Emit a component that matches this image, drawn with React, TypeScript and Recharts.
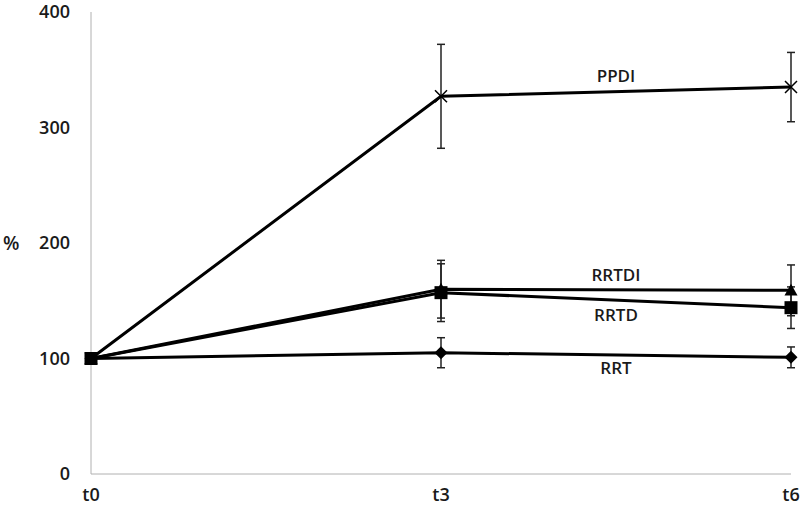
import { LineChart, Line, XAxis, YAxis, ErrorBar, ReferenceDot, Label } from "recharts";

// time points (months) and their labels
const timeValues = [0, 3, 6];
const timeLabels = ["t0", "t3", "t6"];

// series means (% of baseline) and their error (+/-)
const ppdi = [100, 327, 335];
const ppdiErr = [0, 45, 30];
const rrtdi = [100, 160, 159];
const rrtdiErr = [0, 25, 22];
const rrtd = [100, 157, 144];
const rrtdErr = [0, 25, 18];
const rrt = [100, 105, 101];
const rrtErr = [0, 13, 9];

const yTicks = [0, 100, 200, 300, 400];

// inline series names, placed in data coordinates
const seriesLabels = [
  { name: "PPDI", x: 4.5, y: 345 },
  { name: "RRTDI", x: 4.5, y: 172 },
  { name: "RRTD", x: 4.5, y: 138 },
  { name: "RRT", x: 4.5, y: 92 },
];

const data = timeValues.map((t, i) => ({
  t,
  ppdi: ppdi[i],
  ppdiErr: ppdiErr[i],
  rrtdi: rrtdi[i],
  rrtdiErr: rrtdiErr[i],
  rrtd: rrtd[i],
  rrtdErr: rrtdErr[i],
  rrt: rrt[i],
  rrtErr: rrtErr[i],
}));

const FONT = "'Open Sans', 'Liberation Sans', sans-serif";
const TEXT = "#1a1a1a";

const CrossDot = (props: any) => {
  const { cx, cy, index } = props;
  if (cx == null || cy == null) return <g key={`c-${index}`} />;
  const s = 6;
  return (
    <path
      key={`c-${index}`}
      d={`M${cx - s},${cy - s}L${cx + s},${cy + s}M${cx - s},${cy + s}L${cx + s},${cy - s}`}
      stroke="#000"
      strokeWidth={1.5}
      fill="none"
    />
  );
};

const TriangleDot = (props: any) => {
  const { cx, cy, index } = props;
  if (cx == null || cy == null) return <g key={`t-${index}`} />;
  const s = 6.5;
  return <path key={`t-${index}`} d={`M${cx},${cy - s}L${cx + s},${cy + s * 0.8}L${cx - s},${cy + s * 0.8}Z`} fill="#000" />;
};

const SquareDot = (props: any) => {
  const { cx, cy, index } = props;
  if (cx == null || cy == null) return <g key={`s-${index}`} />;
  const s = 6.5;
  return <rect key={`s-${index}`} x={cx - s} y={cy - s} width={s * 2} height={s * 2} fill="#000" />;
};

const DiamondDot = (props: any) => {
  const { cx, cy, index } = props;
  if (cx == null || cy == null) return <g key={`d-${index}`} />;
  const s = 6.5;
  return <path key={`d-${index}`} d={`M${cx},${cy - s}L${cx + s},${cy}L${cx},${cy + s}L${cx - s},${cy}Z`} fill="#000" />;
};

export default function App() {
  return (
    <div style={{ position: "absolute", left: 0, top: 0, width: 800, height: 512, background: "#fff" }}>
      <LineChart width={800} height={512} data={data} margin={{ top: 12, right: 9, left: 0, bottom: 0 }}>
        <XAxis
          dataKey="t"
          type="number"
          domain={[0, 6]}
          ticks={timeValues}
          tickFormatter={(v: number) => timeLabels[timeValues.indexOf(v)]}
          stroke="#b0b0b0"
          tickLine={false}
          tickSize={0}
          tickMargin={14}
          tick={{ fill: TEXT, fontSize: 18, fontWeight: 600, fontFamily: FONT }}
          height={38}
        />
        <YAxis
          domain={[0, 400]}
          ticks={yTicks}
          width={91}
          stroke="#b0b0b0"
          tickLine={false}
          tickSize={0}
          tickMargin={21}
          tick={{ fill: TEXT, fontSize: 18, fontWeight: 600, fontFamily: FONT }}
        >
          <Label
            value="%"
            position="insideLeft"
            offset={3}
            style={{ fill: TEXT, fontSize: 19, fontWeight: 600, fontFamily: FONT }}
          />
        </YAxis>
        <Line dataKey="ppdi" stroke="#000" strokeWidth={3} dot={CrossDot} activeDot={false} isAnimationActive={false}>
          <ErrorBar dataKey="ppdiErr" stroke="#222" strokeWidth={1.5} width={4} direction="y" />
        </Line>
        <Line dataKey="rrt" stroke="#000" strokeWidth={3} dot={DiamondDot} activeDot={false} isAnimationActive={false}>
          <ErrorBar dataKey="rrtErr" stroke="#222" strokeWidth={1.5} width={4} direction="y" />
        </Line>
        <Line dataKey="rrtdi" stroke="#000" strokeWidth={3} dot={TriangleDot} activeDot={false} isAnimationActive={false}>
          <ErrorBar dataKey="rrtdiErr" stroke="#222" strokeWidth={1.5} width={4} direction="y" />
        </Line>
        <Line dataKey="rrtd" stroke="#000" strokeWidth={3} dot={SquareDot} activeDot={false} isAnimationActive={false}>
          <ErrorBar dataKey="rrtdErr" stroke="#222" strokeWidth={1.5} width={4} direction="y" />
        </Line>
        {seriesLabels.map((l) => (
          <ReferenceDot
            key={l.name}
            x={l.x}
            y={l.y}
            r={0}
            fill="none"
            stroke="none"
            label={{ value: l.name, position: "center", fill: TEXT, fontSize: 17, fontWeight: 600, fontFamily: FONT }}
          />
        ))}
      </LineChart>
    </div>
  );
}
